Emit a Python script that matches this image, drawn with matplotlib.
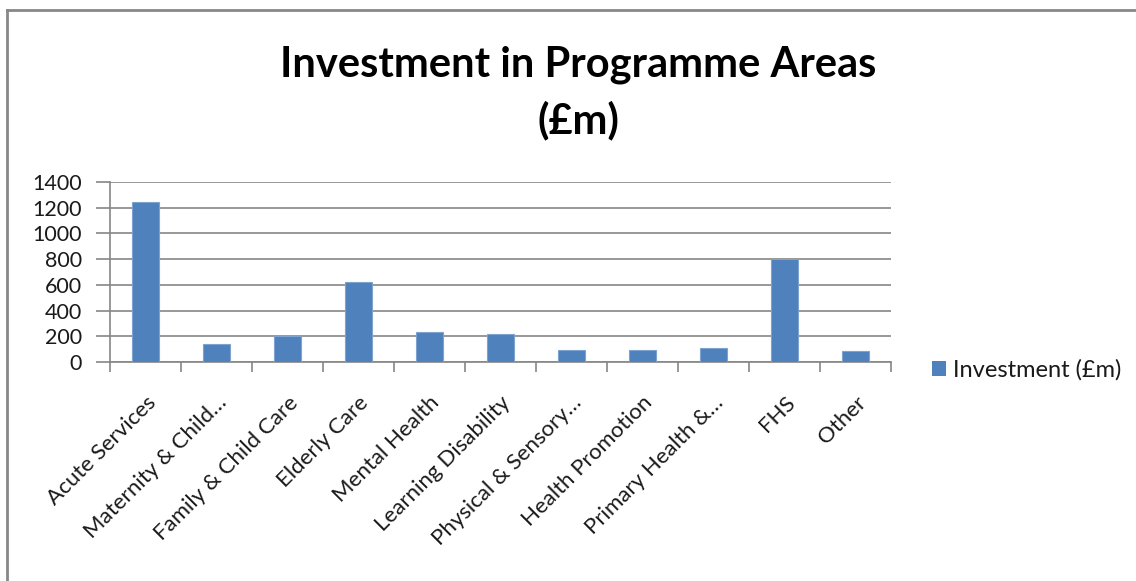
import matplotlib
matplotlib.use("Agg")
import matplotlib.pyplot as plt
from matplotlib.patches import Rectangle
from matplotlib.lines import Line2D

# Programme areas and investment (£m)
categories = [
    "Acute Services",
    "Maternity & Child\u2026",
    "Family & Child Care",
    "Elderly Care",
    "Mental Health",
    "Learning Disability",
    "Physical & Sensory\u2026",
    "Health Promotion",
    "Primary Health &\u2026",
    "FHS",
    "Other",
]
investment = [1245, 138, 200, 625, 236, 215, 96, 96, 106, 800, 86]
y_ticks = [0, 200, 400, 600, 800, 1000, 1200, 1400]
series_name = "Investment (\u00a3m)"
title = "Investment in Programme Areas\n(\u00a3m)"

plt.rcParams["font.family"] = ["Lato", "DejaVu Sans"]

bar_color = "#4F81BD"
grid_color = "#868686"
text_color = "#1a1a1a"

fig = plt.figure(figsize=(11.36, 5.81), dpi=100)
ax = fig.add_axes([110 / 1136, 1 - 362 / 581, (891 - 110) / 1136, 180 / 581])

x = list(range(len(categories)))
ax.bar(x, investment, width=0.39, color=bar_color, edgecolor="#7EA3D0",
       linewidth=0.8, zorder=3)

ax.set_xlim(-0.5, len(categories) - 0.5)
ax.set_ylim(0, 1400)
ax.set_yticks(y_ticks)
ax.set_yticklabels([str(v) for v in y_ticks], fontsize=15.5, color=text_color)
ax.yaxis.grid(True, color=grid_color, linewidth=1.2, zorder=0)
ax.set_axisbelow(True)

# category boundary ticks on the x axis
ax.set_xticks([i - 0.5 for i in range(len(categories) + 1)], minor=False)
ax.set_xticklabels([])
ax.tick_params(axis="x", which="major", length=7, width=1.2, color=grid_color,
               direction="out")
ax.set_xticks(x, minor=True)
ax.set_xticklabels(categories, minor=True, rotation=45, ha="right",
                   rotation_mode="anchor", fontsize=16, color=text_color)
ax.tick_params(axis="x", which="minor", length=0, pad=22)
ax.tick_params(axis="y", length=10, width=1.2, color=grid_color, pad=10)

for side in ("top", "right"):
    ax.spines[side].set_visible(False)
for side in ("left", "bottom"):
    ax.spines[side].set_color(grid_color)
    ax.spines[side].set_linewidth(1.2)

# legend to the right of the plot
handle = Rectangle((0, 0), 1, 1, facecolor=bar_color, edgecolor="none")
fig.legend([handle], [series_name], loc="center left",
           bbox_to_anchor=(932 / 1136, 1 - 370 / 581), frameon=False,
           fontsize=17, handlelength=0.6, handleheight=0.6,
           handletextpad=0.3, borderpad=0, borderaxespad=0,
           labelcolor=text_color)

fig.text(578 / 1136, 1 - 93 / 581, title, ha="center", va="center",
         fontsize=30, fontweight="bold", linespacing=1.5, color="#000000")

# chart frame (top and left edges)
fig.add_artist(Line2D([7 / 1136, 7 / 1136], [0, 1 - 10 / 581],
                      transform=fig.transFigure, color="#888888", linewidth=2))
fig.add_artist(Line2D([7 / 1136, 1], [1 - 10 / 581, 1 - 10 / 581],
                      transform=fig.transFigure, color="#888888", linewidth=2))

fig.savefig("out.png", dpi=100, facecolor="white")
